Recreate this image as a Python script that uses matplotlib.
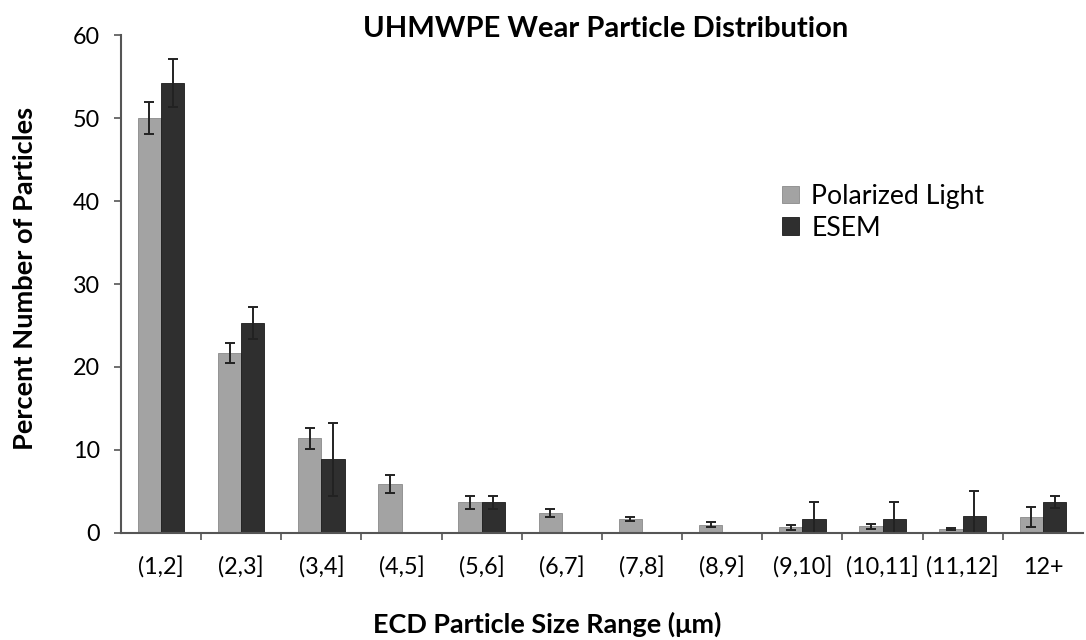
import numpy as np
import matplotlib.pyplot as plt

plt.rcParams['font.family'] = ['Lato', 'DejaVu Sans']

size_ranges = ['(1,2]', '(2,3]', '(3,4]', '(4,5]', '(5,6]', '(6,7]', '(7,8]',
               '(8,9]', '(9,10]', '(10,11]', '(11,12]', '12+']
polarized = [50.0, 21.7, 11.4, 5.9, 3.7, 2.4, 1.7, 1.0, 0.7, 0.8, 0.5, 1.9]
polarized_err = [1.9, 1.2, 1.3, 1.1, 0.8, 0.5, 0.2, 0.3, 0.3, 0.3, 0.1, 1.2]
esem = [54.2, 25.3, 8.9, 0.0, 3.7, 0.0, 0.0, 0.0, 1.7, 1.7, 2.1, 3.7]
esem_err = [2.9, 1.9, 4.4, 0.0, 0.8, 0.0, 0.0, 0.0, 2.0, 2.0, 3.0, 0.7]

fig = plt.figure(figsize=(10.86, 6.4), dpi=100)
ax = fig.add_axes([0.1114, 0.1672, 0.8858, 0.7781])
renderer = fig.canvas.get_renderer()


def size_for(text, target_px, **kw):
    # font size that makes the text target_px wide
    t = fig.text(0, 0, text, fontsize=10, **kw)
    w = t.get_window_extent(renderer=renderer).width
    t.remove()
    return 10 * target_px / w


x = np.arange(len(size_ranges))
w = 0.29
err_kw = dict(ecolor='#222222', elinewidth=1.4, capsize=3.6, capthick=1.4)
ax.bar(x - w / 2, polarized, w, yerr=polarized_err, color='#a3a3a3',
       edgecolor='#8a8a8a', linewidth=0.6, label='Polarized Light', error_kw=err_kw)
# empty ESEM bins are left out instead of drawn as zero-height bars
esem_plot = [v if v > 0 else np.nan for v in esem]
esem_e = [e if v > 0 else np.nan for v, e in zip(esem, esem_err)]
ax.bar(x + w / 2, esem_plot, w, yerr=esem_e, color='#2f2f2f',
       edgecolor='#1a1a1a', linewidth=0.6, label='ESEM', error_kw=err_kw)

tick_fs = size_for('(4,5]', 46)
ax.set_xlim(-0.5, len(size_ranges) - 0.5)
ax.set_ylim(0, 60)
ax.set_yticks(np.arange(0, 61, 10))
ax.set_xticks(x)
ax.set_xticklabels(size_ranges)
ax.set_xticks(np.arange(0.5, len(size_ranges) - 0.5, 1), minor=True)
ax.tick_params(axis='x', which='major', length=0, pad=17, labelsize=tick_fs)
ax.tick_params(axis='x', which='minor', length=5, width=1.2, direction='out', color='#555555')
ax.tick_params(axis='y', length=5, width=1.2, color='#555555', labelsize=tick_fs, pad=10)

for s in ['top', 'right']:
    ax.spines[s].set_visible(False)
for s in ['left', 'bottom']:
    ax.spines[s].set_color('#555555')
    ax.spines[s].set_linewidth(1.5)

title = 'UHMWPE Wear Particle Distribution'
ax.text(0.5036, 0.996, title, transform=ax.transAxes, ha='center', va='baseline',
        fontsize=size_for(title, 485, fontweight='bold'), fontweight='bold')

ylab = 'Percent Number of Particles'
ax.set_ylabel(ylab, fontsize=size_for(ylab, 345, fontweight='bold'), fontweight='bold',
              va='center')
ax.yaxis.set_label_coords(-0.0998, 0.512)

xlab = 'ECD Particle Size Range (\u03bcm)'
ax.set_xlabel(xlab, fontsize=size_for(xlab, 349, fontweight='bold'), fontweight='bold',
              va='baseline')
ax.xaxis.set_label_coords(0.4434, -0.2008)

leg_fs = size_for('Polarized Light', 173)
ax.legend(loc='upper left', bbox_to_anchor=(0.687, 0.701), frameon=False, fontsize=leg_fs,
          borderpad=0, borderaxespad=0, handlelength=0.65, handleheight=0.65,
          handletextpad=0.45, labelspacing=0.25)

fig.savefig('out.png', dpi=100)
